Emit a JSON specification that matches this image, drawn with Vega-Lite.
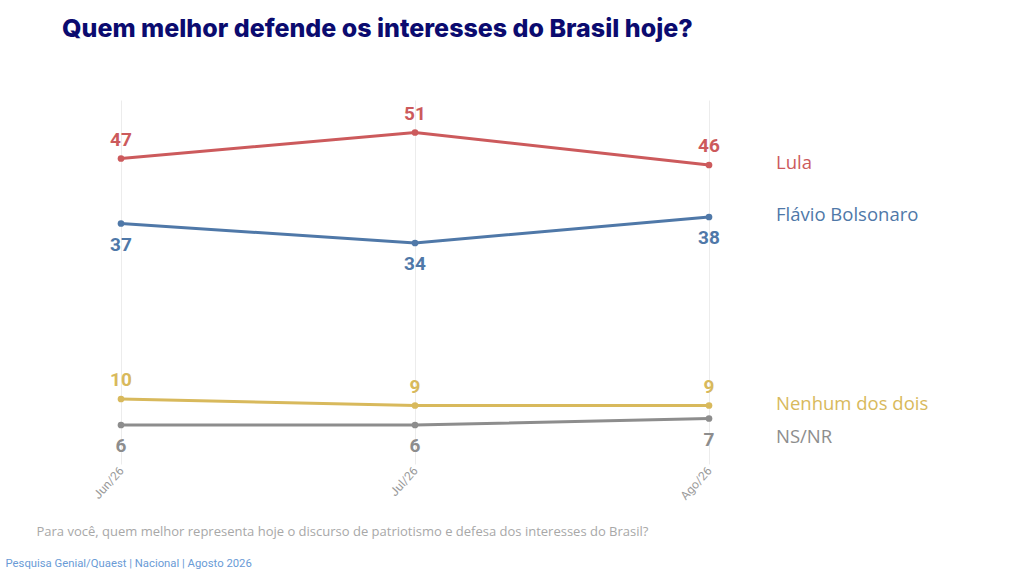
{
  "$schema": "https://vega.github.io/schema/vega-lite/v6.json",
  "autosize": {"type": "none"},
  "padding": {"left": 121, "top": 100, "right": 315, "bottom": 108},
  "width": 588,
  "height": 364,
  "background": "white",
  "title": {
    "text": "Quem melhor defende os interesses do Brasil hoje?",
    "anchor": "start",
    "frame": "group",
    "dx": -59,
    "offset": 58,
    "font": "Inter",
    "fontSize": 25,
    "fontWeight": 800,
    "color": "#0b0b6f"
  },
  "data": {
    "values": [
      {"month": "Jun/26", "series": "Lula", "value": 47},
      {"month": "Jul/26", "series": "Lula", "value": 51},
      {"month": "Ago/26", "series": "Lula", "value": 46},
      {"month": "Jun/26", "series": "Flávio Bolsonaro", "value": 37},
      {"month": "Jul/26", "series": "Flávio Bolsonaro", "value": 34},
      {"month": "Ago/26", "series": "Flávio Bolsonaro", "value": 38},
      {"month": "Jun/26", "series": "Nenhum dos dois", "value": 10},
      {"month": "Jul/26", "series": "Nenhum dos dois", "value": 9},
      {"month": "Ago/26", "series": "Nenhum dos dois", "value": 9},
      {"month": "Jun/26", "series": "NS/NR", "value": 6},
      {"month": "Jul/26", "series": "NS/NR", "value": 6},
      {"month": "Ago/26", "series": "NS/NR", "value": 7}
    ]
  },
  "encoding": {
    "x": {
      "field": "month",
      "type": "ordinal",
      "sort": ["Jun/26", "Jul/26", "Ago/26"],
      "scale": {"type": "point", "padding": 0},
      "axis": {
        "title": "Para você, quem melhor representa hoje o discurso de patriotismo e defesa dos interesses do Brasil?",
        "titleFont": "Open Sans",
        "titleFontSize": 13,
        "titleFontWeight": "normal",
        "titleColor": "#a8a8a8",
        "titleAnchor": "start",
        "titleAlign": "left",
        "titleBaseline": "alphabetic",
        "titleX": -85,
        "titleY": 71,
        "labelAngle": -48,
        "labelAlign": "right",
        "labelBaseline": "middle",
        "labelFont": "Roboto",
        "labelFontSize": 12,
        "labelColor": "#9a9a9a",
        "labelPadding": 4,
        "domain": false,
        "ticks": false,
        "grid": true,
        "gridColor": "#ececec",
        "gridWidth": 1
      }
    },
    "y": {
      "field": "value",
      "type": "quantitative",
      "scale": {"domain": [0, 56]},
      "axis": {
        "title": "Pesquisa Genial/Quaest | Nacional | Agosto 2026",
        "titleFont": "Roboto",
        "titleFontSize": 11.3,
        "titleFontWeight": "normal",
        "titleColor": "#6a9bd6",
        "titleAngle": 0,
        "titleAnchor": "start",
        "titleAlign": "left",
        "titleBaseline": "alphabetic",
        "titleX": -116,
        "titleY": 466,
        "labels": false,
        "ticks": false,
        "domain": false,
        "grid": false
      }
    },
    "color": {
      "field": "series",
      "type": "nominal",
      "scale": {
        "domain": ["Lula", "Flávio Bolsonaro", "Nenhum dos dois", "NS/NR"],
        "range": ["#cc5a5c", "#4f78a8", "#d8b95c", "#8d8d8d"]
      },
      "legend": null
    }
  },
  "layer": [
    {
      "mark": {"type": "line", "strokeWidth": 3, "point": {"filled": true, "size": 45, "opacity": 1}}
    },
    {
      "transform": [{"filter": "datum.series == 'Lula' || datum.series == 'Nenhum dos dois'"}],
      "mark": {"type": "text", "dy": -19, "font": "Roboto", "fontSize": 19, "fontWeight": "bold", "baseline": "middle"},
      "encoding": {"text": {"field": "value", "type": "quantitative"}}
    },
    {
      "transform": [{"filter": "datum.series == 'Flávio Bolsonaro' || datum.series == 'NS/NR'"}],
      "mark": {"type": "text", "dy": 21, "font": "Roboto", "fontSize": 19, "fontWeight": "bold", "baseline": "middle"},
      "encoding": {"text": {"field": "value", "type": "quantitative"}}
    },
    {
      "transform": [{"filter": "datum.month == 'Ago/26' && datum.series != 'NS/NR'"}],
      "mark": {"type": "text", "dx": 67, "dy": -2, "align": "left", "baseline": "middle", "font": "Open Sans", "fontSize": 18.5},
      "encoding": {"text": {"field": "series"}}
    },
    {
      "transform": [{"filter": "datum.month == 'Ago/26' && datum.series == 'NS/NR'"}],
      "mark": {"type": "text", "dx": 67, "dy": 18, "align": "left", "baseline": "middle", "font": "Open Sans", "fontSize": 18.5},
      "encoding": {"text": {"field": "series"}}
    }
  ],
  "config": {"view": {"stroke": null}}
}
